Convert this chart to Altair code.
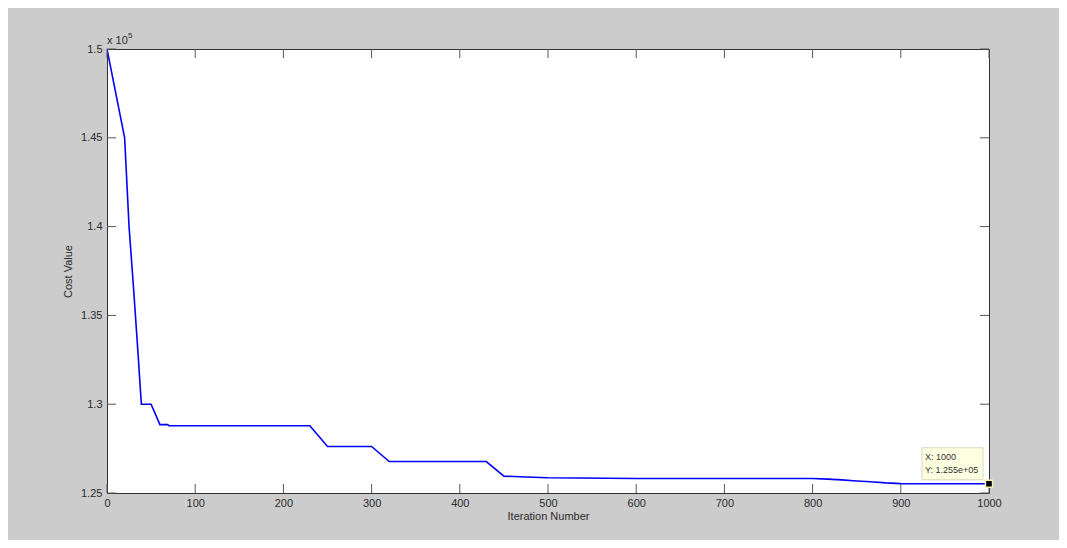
import altair as alt
import pandas as pd

# ---- data ----
iteration = [0, 20, 25, 30, 35, 38, 39, 50, 60, 69, 70, 230, 250, 300, 320, 430, 450,
             475, 500, 600, 800, 817, 833, 850, 866, 883, 900, 1000]
cost = [150000, 145000, 140000, 136600, 133000, 130700, 130000, 130000, 128850, 128850,
        128790, 128790, 127620, 127620, 126770, 126770, 125950, 125900, 125860, 125820,
        125820, 125780, 125740, 125680, 125630, 125570, 125530, 125520]

x_ticks = [0, 100, 200, 300, 400, 500, 600, 700, 800, 900, 1000]
y_ticks = [125000, 130000, 135000, 140000, 145000, 150000]

tip_x = [1000]
tip_y = [125520]
tip_lines = ["X: 1000", "Y: 1.255e+05"]

W, H = 882, 444

df = pd.DataFrame({"iter": iteration, "cost": cost})
xt = pd.DataFrame({"iter": x_ticks})
yt = pd.DataFrame({"cost": y_ticks})
tip = pd.DataFrame({"iter": tip_x, "cost": tip_y})

xs = alt.Scale(domain=[0, 1000], nice=False, zero=False)
ys = alt.Scale(domain=[125000, 150000], nice=False, zero=False)

FONT = "Liberation Sans"
TXT = "#2b2b2b"

X = alt.X("iter:Q", scale=xs, title="Iteration Number",
          axis=alt.Axis(values=x_ticks, ticks=False, domain=False, grid=False, format="d",
                        labelPadding=4, titlePadding=2, labelFlush=False))
Y = alt.Y("cost:Q", scale=ys, title="Cost Value",
          axis=alt.Axis(values=y_ticks, ticks=False, domain=False, grid=False,
                        labelPadding=5, titlePadding=7, labelFlush=False,
                        labelExpr="format(datum.value / 100000, '~g')"))

line = alt.Chart(df).mark_line(color="#0000ff", strokeWidth=1.6, clip=True).encode(x=X, y=Y)

tick_color = "#555555"
xb = alt.Chart(xt).mark_rule(color=tick_color, strokeWidth=1).encode(
    x=X, y=alt.value(H), y2=alt.value(H - 9))
xtop = alt.Chart(xt).mark_rule(color=tick_color, strokeWidth=1).encode(
    x=X, y=alt.value(0), y2=alt.value(9))
yl = alt.Chart(yt).mark_rule(color=tick_color, strokeWidth=1).encode(
    y=Y, x=alt.value(0), x2=alt.value(9))
yr = alt.Chart(yt).mark_rule(color=tick_color, strokeWidth=1).encode(
    y=Y, x=alt.value(W), x2=alt.value(W - 9))

exp_main = alt.Chart(tip).mark_text(align="left", baseline="alphabetic", fontSize=11,
                                    font=FONT, color=TXT).encode(
    x=alt.value(0), y=alt.value(-5), text=alt.value("x 10"))
exp_sup = alt.Chart(tip).mark_text(align="left", baseline="alphabetic", fontSize=8,
                                   font=FONT, color=TXT).encode(
    x=alt.value(21), y=alt.value(-11), text=alt.value("5"))

box = alt.Chart(tip).mark_rect(fill="#ffffe1", stroke="#d9d9b8", strokeWidth=1,
                               xOffset=-67, x2Offset=-6, yOffset=-36, y2Offset=-4).encode(
    x=X, x2="iter:Q", y=Y, y2="cost:Q")
t1 = alt.Chart(tip).mark_text(align="left", baseline="alphabetic", fontSize=9, font=FONT,
                              color="#333333", dx=-64, dy=-24).encode(
    x=X, y=Y, text=alt.value(tip_lines[0]))
t2 = alt.Chart(tip).mark_text(align="left", baseline="alphabetic", fontSize=9, font=FONT,
                              color="#333333", dx=-64, dy=-11).encode(
    x=X, y=Y, text=alt.value(tip_lines[1]))
marker = alt.Chart(tip).mark_point(shape="square", filled=True, fill="#000000",
                                   stroke="#f5f0b0", strokeWidth=1.5, size=50,
                                   opacity=1).encode(x=X, y=Y)

chart = alt.layer(line, xb, xtop, yl, yr, exp_main, exp_sup, box, t1, t2, marker).properties(
    width=W, height=H,
    background="#cccccc",
    padding={"left": 99, "top": 41, "right": 70, "bottom": 47},
    autosize=alt.AutoSizeParams(type="none"),
).configure_view(
    stroke="#303030", strokeWidth=1, fill="#ffffff"
).configure_axis(
    labelFont=FONT, titleFont=FONT, labelFontSize=11, titleFontSize=11,
    labelColor=TXT, titleColor=TXT, titleFontWeight="normal",
)

chart.save("out.html", embed_options={"renderer": "svg", "actions": False})
